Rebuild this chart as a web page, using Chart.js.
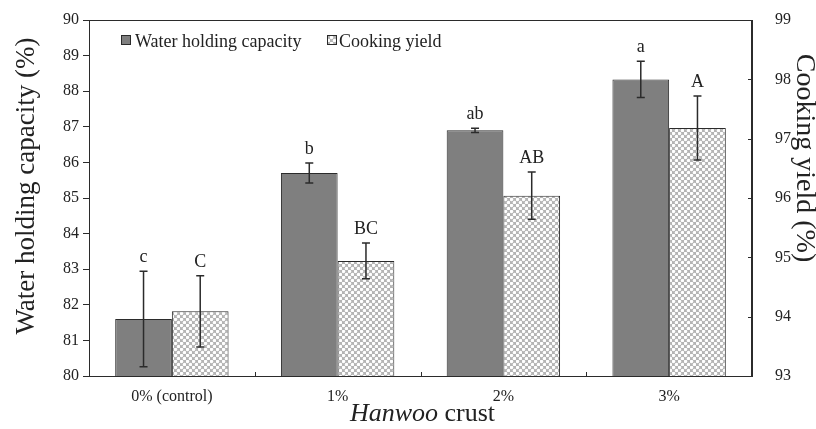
<!DOCTYPE html>
<html>
<head>
<meta charset="utf-8">
<script src="https://cdn.jsdelivr.net/npm/chart.js@4.4.1/dist/chart.umd.min.js"></script>
<style>
  html, body { margin: 0; padding: 0; background: #fff; }
  #wrap { width: 816px; height: 429px; }
</style>
</head>
<body>
<div id="wrap"><canvas id="bar-chart" width="816" height="429"></canvas></div>
<script>
// data
const categories = ['0% (control)', '1%', '2%', '3%'];
const whc = [81.60, 85.70, 86.90, 88.33];
const whcErr = [1.34, 0.28, 0.06, 0.51];
const cy = [94.09, 94.94, 96.04, 97.18];
const cyErr = [0.60, 0.30, 0.40, 0.54];
const whcLetters = ['c', 'b', 'ab', 'a'];
const cyLetters = ['C', 'BC', 'AB', 'A'];
const seriesNames = ['Water holding capacity', 'Cooking yield'];

const serif = '"Liberation Serif", "Times New Roman", serif';
const ink = '#2b2b2b';

// cross-hatch fill for cooking yield
function makePattern() {
  const c = document.createElement('canvas');
  c.width = 6; c.height = 6;
  const g = c.getContext('2d');
  g.fillStyle = '#b4b4b4';
  g.fillRect(0, 0, 6, 6);
  g.fillStyle = '#ffffff';
  g.beginPath(); g.arc(1.5, 1.5, 1.75, 0, Math.PI * 2); g.fill();
  g.beginPath(); g.arc(4.5, 4.5, 1.75, 0, Math.PI * 2); g.fill();
  return g.createPattern(c, 'repeat');
}
const hatch = makePattern();

// keep the plot box fixed: no extra room for half tick labels
function fixPad(s) {
  s.paddingTop = 0; s.paddingBottom = 0;
  s.paddingLeft = 0; s.paddingRight = 0;
}

const extras = {
  id: 'extras',
  afterDatasetsDraw(chart) {
    const ctx = chart.ctx;
    const a = chart.chartArea;
    const errs = [whcErr, cyErr];
    const letters = [whcLetters, cyLetters];
    const vals = [whc, cy];
    ctx.save();
    // error bars + significance letters
    chart.data.datasets.forEach((ds, i) => {
      const meta = chart.getDatasetMeta(i);
      const sc = chart.scales[ds.yAxisID];
      meta.data.forEach((bar, j) => {
        const top = sc.getPixelForValue(vals[i][j] + errs[i][j]);
        const bot = sc.getPixelForValue(vals[i][j] - errs[i][j]);
        ctx.strokeStyle = ink;
        ctx.lineWidth = 1.5;
        ctx.beginPath();
        ctx.moveTo(bar.x, top); ctx.lineTo(bar.x, bot);
        ctx.moveTo(bar.x - 4, top); ctx.lineTo(bar.x + 4, top);
        ctx.moveTo(bar.x - 4, bot); ctx.lineTo(bar.x + 4, bot);
        ctx.stroke();
        ctx.fillStyle = '#222';
        ctx.font = '18px ' + serif;
        ctx.textAlign = 'center';
        ctx.textBaseline = 'alphabetic';
        ctx.fillText(letters[i][j], bar.x, top - 9);
      });
    });
    // frame
    ctx.strokeStyle = ink;
    ctx.lineWidth = 1;
    ctx.strokeRect(a.left + 0.5, a.top + 0.5, a.right - a.left - 1, a.bottom - a.top);
    // right axis inner ticks
    const y1 = chart.scales.y1;
    ctx.beginPath();
    y1.ticks.forEach(t => {
      const y = Math.round(y1.getPixelForValue(t.value)) + 0.5;
      ctx.moveTo(a.right - 4, y); ctx.lineTo(a.right, y);
    });
    // category boundary ticks on x axis
    const step = (a.right - a.left) / categories.length;
    for (let k = 1; k < categories.length; k++) {
      const px = Math.round(a.left + step * k) + 0.5;
      ctx.moveTo(px, a.bottom); ctx.lineTo(px, a.bottom - 4);
    }
    ctx.stroke();

    // legend
    ctx.font = '18px ' + serif;
    ctx.textAlign = 'left';
    ctx.textBaseline = 'alphabetic';
    ctx.fillStyle = '#7f7f7f';
    ctx.fillRect(121, 35, 10, 10);
    ctx.strokeRect(121.5, 35.5, 9, 9);
    ctx.fillStyle = '#222';
    ctx.fillText(seriesNames[0], 135, 47);
    ctx.fillStyle = hatch;
    ctx.fillRect(327, 35, 10, 10);
    ctx.strokeRect(327.5, 35.5, 9, 9);
    ctx.fillStyle = '#222';
    ctx.fillText(seriesNames[1], 339, 47);

    // axis titles
    ctx.font = '27px ' + serif;
    ctx.textAlign = 'center';
    ctx.textBaseline = 'middle';
    ctx.save();
    ctx.translate(27, 186);
    ctx.rotate(-Math.PI / 2);
    ctx.fillText('Water holding capacity (%)', 0, 0);
    ctx.restore();
    ctx.save();
    ctx.font = '28px ' + serif;
    ctx.translate(804, 158);
    ctx.rotate(Math.PI / 2);
    ctx.fillText('Cooking yield (%)', 0, 0);
    ctx.restore();

    // x title with italic word
    const w1 = 'Hanwoo', w2 = ' crust';
    ctx.textBaseline = 'alphabetic';
    ctx.textAlign = 'left';
    ctx.font = 'italic 26px ' + serif;
    const l1 = ctx.measureText(w1).width;
    ctx.font = '26px ' + serif;
    const l2 = ctx.measureText(w2).width;
    const sx = (a.left + a.right) / 2 + 2 - (l1 + l2) / 2;
    ctx.font = 'italic 26px ' + serif;
    ctx.fillText(w1, sx, 421);
    ctx.font = '26px ' + serif;
    ctx.fillText(w2, sx + l1, 421);
    ctx.restore();
  }
};

new Chart(document.getElementById('bar-chart'), {
  type: 'bar',
  data: {
    labels: categories,
    datasets: [{
      label: seriesNames[0],
      data: whc,
      yAxisID: 'y',
      backgroundColor: '#7f7f7f',
      borderColor: ink,
      borderWidth: 1
    }, {
      label: seriesNames[1],
      data: cy,
      yAxisID: 'y1',
      backgroundColor: hatch,
      borderColor: ink,
      borderWidth: 1
    }]
  },
  options: {
    responsive: false,
    devicePixelRatio: 1,
    animation: false,
    categoryPercentage: 0.684,
    barPercentage: 1,
    layout: { padding: { top: 20, left: 0, right: 0, bottom: 0 } },
    plugins: { legend: { display: false }, tooltip: { enabled: false } },
    scales: {
      x: {
        grid: { display: false },
        border: { display: true, color: ink },
        ticks: { font: { family: serif, size: 16 }, color: '#222', padding: 3 },
        afterFit(s) { s.height = 53; fixPad(s); }
      },
      y: {
        position: 'left',
        min: 80, max: 90,
        border: { display: true, color: ink },
        grid: { drawOnChartArea: false, tickLength: 6, color: ink },
        ticks: { stepSize: 1, font: { family: serif, size: 16 }, color: '#222', padding: 4 },
        afterFit(s) { s.width = 89; fixPad(s); }
      },
      y1: {
        position: 'right',
        min: 93, max: 99,
        border: { display: true, color: ink },
        grid: { display: false },
        ticks: { stepSize: 1, font: { family: serif, size: 16 }, color: '#222', padding: 15 },
        afterFit(s) { s.width = 64; fixPad(s); }
      }
    }
  },
  plugins: [extras]
});
</script>
</body>
</html>
